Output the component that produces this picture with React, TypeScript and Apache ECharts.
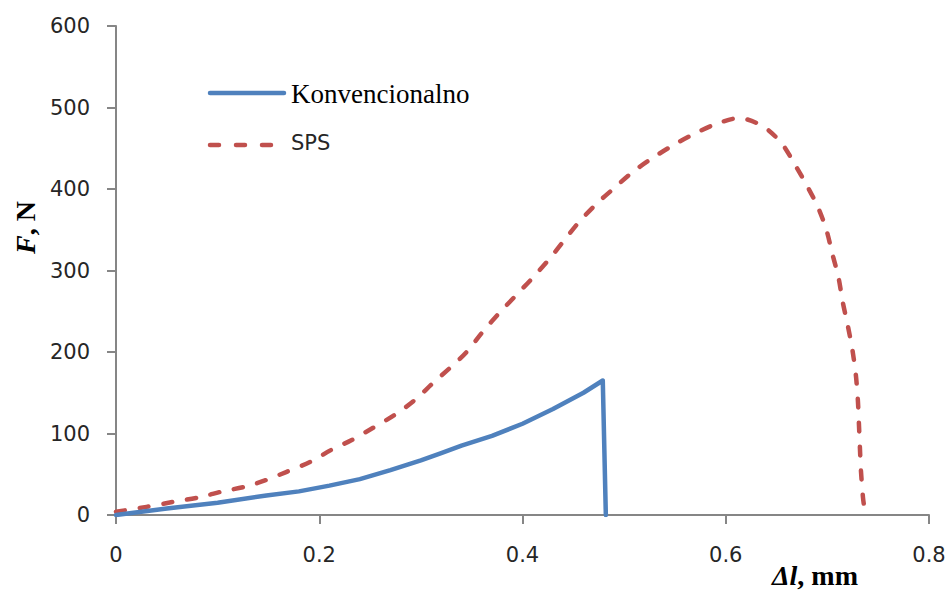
import React, { useEffect, useRef } from "react";
import * as echarts from "echarts";

const xTicks = [0, 0.2, 0.4, 0.6, 0.8];
const yTicks = [0, 100, 200, 300, 400, 500, 600];

const seriesNames = ["Konvencionalno", "SPS"];

// Konvencionalno: [Δl (mm), F (N)]
const konvencionalno: [number, number][] = [
  [0, 0], [0.05, 8], [0.1, 15], [0.148, 24], [0.18, 29], [0.21, 36],
  [0.24, 44], [0.27, 55], [0.3, 67], [0.32, 76], [0.34, 85], [0.37, 97],
  [0.4, 112], [0.43, 130], [0.46, 150], [0.479, 165], [0.482, 0],
];

// SPS: [Δl (mm), F (N)]
const sps: [number, number][] = [
  [0, 4], [0.03, 10], [0.056, 16], [0.083, 22], [0.105, 29], [0.128, 35],
  [0.148, 43], [0.168, 53], [0.191, 65], [0.212, 80], [0.232, 92],
  [0.253, 107], [0.2745, 123], [0.294, 141], [0.312, 162], [0.33, 182],
  [0.345, 200], [0.361, 225], [0.378, 249], [0.394, 270], [0.41, 291],
  [0.427, 315], [0.4417, 338], [0.456, 360], [0.473, 382], [0.491, 402],
  [0.5086, 421], [0.528, 438], [0.55, 455], [0.5695, 468], [0.591, 480],
  [0.613, 487], [0.6365, 477], [0.655, 456], [0.668, 430], [0.6795, 405],
  [0.6906, 378], [0.699, 350], [0.705, 320], [0.711, 291], [0.715, 262],
  [0.72, 233], [0.7247, 202], [0.728, 172], [0.73, 141], [0.731, 113],
  [0.732, 83], [0.733, 55], [0.735, 22], [0.736, 12],
];

const BLUE = "#4F81BD";
const RED = "#C0504D";
const AXIS = "#868686";
const LABEL = "#262626";
const SERIF = "'Liberation Serif', 'Times New Roman', serif";
const SANS = "'DejaVu Sans', Verdana, sans-serif";

export default function App() {
  const ref = useRef<HTMLDivElement>(null);

  useEffect(() => {
    if (!ref.current) return;
    const chart = echarts.init(ref.current, null, { renderer: "svg" });
    chart.setOption({
      animation: false,
      backgroundColor: "#ffffff",
      grid: { left: 116, right: 21, top: 26, bottom: 76, containLabel: false },
      xAxis: {
        type: "value",
        min: xTicks[0],
        max: xTicks[xTicks.length - 1],
        interval: 0.2,
        axisLine: { show: true, lineStyle: { color: AXIS, width: 2 } },
        axisTick: { show: true, length: 9, lineStyle: { color: AXIS, width: 2 } },
        splitLine: { show: false },
        axisLabel: {
          color: LABEL,
          fontFamily: SANS,
          fontSize: 21,
          margin: 29,
          formatter: (v: number) => String(Math.round(v * 10) / 10),
        },
        name: "{i|Δl}{n|, mm}",
        nameLocation: "end",
        nameGap: -157,
        nameTextStyle: {
          align: "left",
          verticalAlign: "top",
          padding: [46, 0, 0, 0],
          rich: {
            i: { fontFamily: SERIF, fontSize: 28, fontWeight: "bold", fontStyle: "italic", color: "#000" },
            n: { fontFamily: SERIF, fontSize: 28, fontWeight: "bold", color: "#000" },
          },
        },
      },
      yAxis: {
        type: "value",
        min: yTicks[0],
        max: yTicks[yTicks.length - 1],
        interval: 100,
        axisLine: { show: true, lineStyle: { color: AXIS, width: 2 } },
        axisTick: { show: true, length: 9, lineStyle: { color: AXIS, width: 2 } },
        splitLine: { show: false },
        axisLabel: { color: LABEL, fontFamily: SANS, fontSize: 21, margin: 26 },
        name: "{i|F}{n|, N}",
        nameLocation: "middle",
        nameGap: 76,
        nameRotate: 90,
        nameTextStyle: {
          padding: [0, 0, 0, 86],
          rich: {
            i: { fontFamily: SERIF, fontSize: 28, fontWeight: "bold", fontStyle: "italic", color: "#000" },
            n: { fontFamily: SERIF, fontSize: 28, fontWeight: "bold", color: "#000" },
          },
        },
      },
      series: [
        {
          name: seriesNames[0],
          type: "line",
          data: konvencionalno,
          showSymbol: false,
          symbol: "none",
          lineStyle: { color: BLUE, width: 4.5, cap: "round", join: "round" },
          z: 3,
        },
        {
          name: seriesNames[1],
          type: "line",
          data: sps,
          showSymbol: false,
          symbol: "none",
          smooth: 0.3,
          lineStyle: { color: RED, width: 4.5, type: [9, 15], cap: "round", join: "round" },
          z: 2,
        },
      ],
      graphic: [
        {
          type: "line",
          shape: { x1: 210, y1: 93, x2: 284, y2: 93 },
          style: { stroke: BLUE, lineWidth: 4.5, lineCap: "round" },
        },
        {
          type: "text",
          x: 291,
          y: 94,
          style: {
            text: seriesNames[0],
            font: `27px ${SERIF}`,
            fill: "#000",
            verticalAlign: "middle",
          },
        },
        {
          type: "line",
          shape: { x1: 210, y1: 145, x2: 272, y2: 145 },
          style: { stroke: RED, lineWidth: 4.5, lineCap: "round", lineDash: [9, 17] },
        },
        {
          type: "text",
          x: 291,
          y: 143,
          style: {
            text: seriesNames[1],
            font: `21px ${SANS}`,
            fill: LABEL,
            verticalAlign: "middle",
          },
        },
      ],
    });
    return () => chart.dispose();
  }, []);

  return <div ref={ref} style={{ width: 950, height: 591, position: "absolute", left: 0, top: 0 }} />;
}
